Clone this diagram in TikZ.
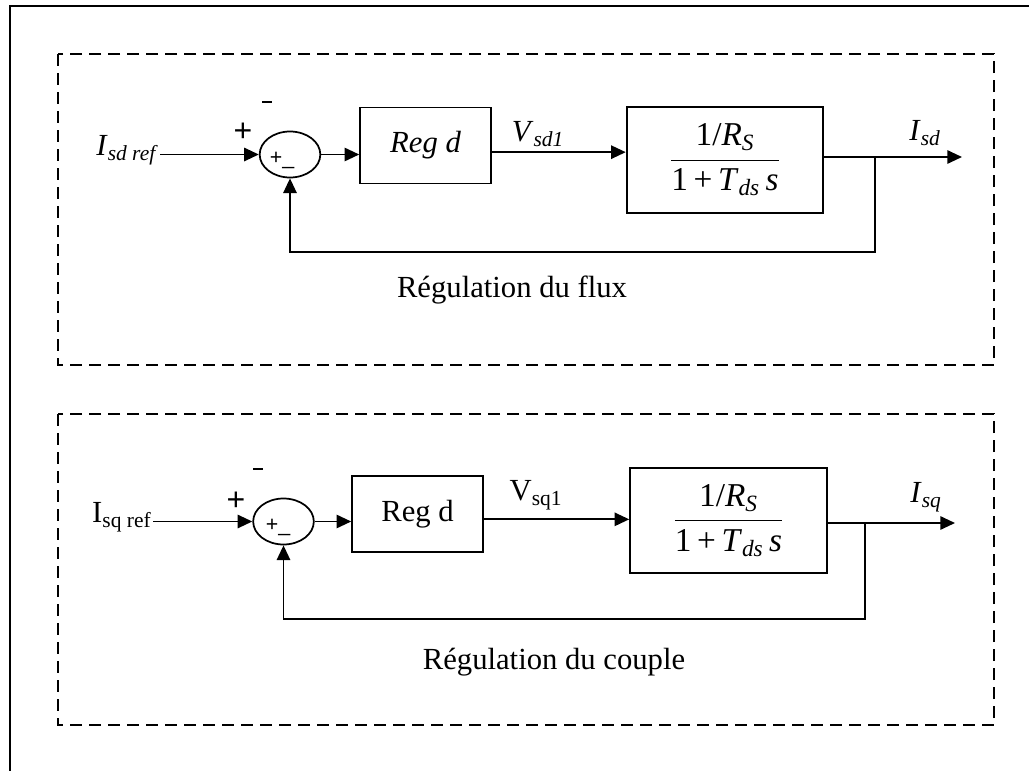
\documentclass[tikz,border=0pt]{standalone}
\usepackage{fontspec}
\setmainfont{Liberation Serif}
\newfontfamily\signfont{Liberation Sans}
\usepackage{tikz}
\usetikzlibrary{positioning, arrows.meta, shapes.geometric}
\tikzset{
  zone/.style={draw, line width=1.1pt, dash pattern=on 9pt off 5.25pt},
  sumnode/.style={draw, ellipse, line width=1.3pt, inner sep=0pt,
                  minimum width=45.5pt, minimum height=34.5pt},
  regbox/.style={draw, line width=1.4pt, inner sep=0pt,
                 minimum width=98pt, minimum height=57pt},
  tfbox/.style={draw, line width=1.4pt, inner sep=0pt,
                minimum width=147.5pt, minimum height=79pt,
                font=\fontsize{25}{29}\selectfont},
  arr/.style={-{Triangle[length=11pt, width=10pt]}, line width=1.4pt},
  sgn/.style={font=\signfont\fontsize{24}{24}\selectfont, inner sep=0pt},
  insgn/.style={font=\signfont\fontsize{16}{16}\selectfont, inner sep=0pt},
  lbl/.style={inner sep=1pt},
}
\newcommand{\tfrac}{$\displaystyle\frac{\mbox{1/\textit{R}\textsubscript{\textit{S}}}}%
  {\mbox{1\,+\,\textit{T}\textsubscript{\textit{ds}}\,\textit{s}}}$}
\newcommand{\minussign}{\rule{7pt}{2.2pt}}

\begin{document}
\begin{tikzpicture}[x=0.75pt, y=-0.75pt, font=\fontsize{23}{27}\selectfont]
  \useasboundingbox (0,0) rectangle (1029,771);
  \draw[line width=1.4pt] (10,771) -- (10,6) -- (1029,6);

  % flux loop
  \draw[zone] (58,54) rectangle (994,365);
  \node[sumnode] (sumflux) at (290,154.5) {};
  \node[insgn] (insflux) at (282,160) {+\_};
  \node[sgn] (plusflux) at (243,132) {+};
  \node[sgn] (minusflux) at (267,102) {\minussign};
  \node[regbox] (regflux) at (425.5,145.5) {\itshape Reg d};
  \node[tfbox] (tfflux) at (725,160) {\tfrac};
  \node[lbl, anchor=east] (isdref) at (160,150)
    {\textit{I}\textsubscript{\textit{sd ref}}};
  \node[lbl] (vsd) at (538,134) {\textit{V}\textsubscript{\textit{sd1}}};
  \node[lbl] (isd) at (925,133) {\textit{I}\textsubscript{\textit{sd}}};
  \coordinate (tapflux) at (875,157);
  \coordinate (isdend) at (962,157);
  \node (flux) at (512,290) {Régulation du flux};

  \draw[arr] (isdref.east |- sumflux.west) -- (sumflux.west);
  \draw[arr] (sumflux.east) -- (sumflux.east -| regflux.west);
  \draw[arr] ([yshift=-5pt]regflux.east) -- ([yshift=-5pt]regflux.east -| tfflux.west);
  \draw[arr] (tfflux.east |- isdend) -- (isdend);
  \draw[arr] (tapflux) -- ++(0,95) -| (sumflux.south);

  % couple loop
  \draw[zone] (58,414) rectangle (994,725);
  \node[sumnode] (sumcouple) at (283.5,521.5) {};
  \node[insgn] (inscouple) at (278,527) {+\_};
  \node[sgn] (pluscouple) at (236,501) {+};
  \node[sgn] (minuscouple) at (258,469) {\minussign};
  \node[regbox] (regcouple) at (417.5,514) {Reg d};
  \node[tfbox] (tfcouple) at (728.5,520.5) {\tfrac};
  \node[lbl, anchor=east] (isqref) at (153,517) {I\textsubscript{sq ref}};
  \node[lbl] (vsq) at (536,495) {V\textsubscript{sq1}};
  \node[lbl] (isq) at (926,497) {\textit{I}\textsubscript{\textit{sq}}};
  \coordinate (tapcouple) at (865,523);
  \coordinate (isqend) at (955,523);
  \node (couple) at (554,662) {Régulation du couple};

  \draw[arr] (isqref.east |- sumcouple.west) -- (sumcouple.west);
  \draw[arr] (sumcouple.east) -- (sumcouple.east -| regcouple.west);
  \draw[arr] ([yshift=-4pt]regcouple.east) -- ([yshift=-4pt]regcouple.east -| tfcouple.west);
  \draw[arr] (tfcouple.east |- isqend) -- (isqend);
  \draw[arr] (tapcouple) -- ++(0,96) -| (sumcouple.south);
\end{tikzpicture}
\end{document}
